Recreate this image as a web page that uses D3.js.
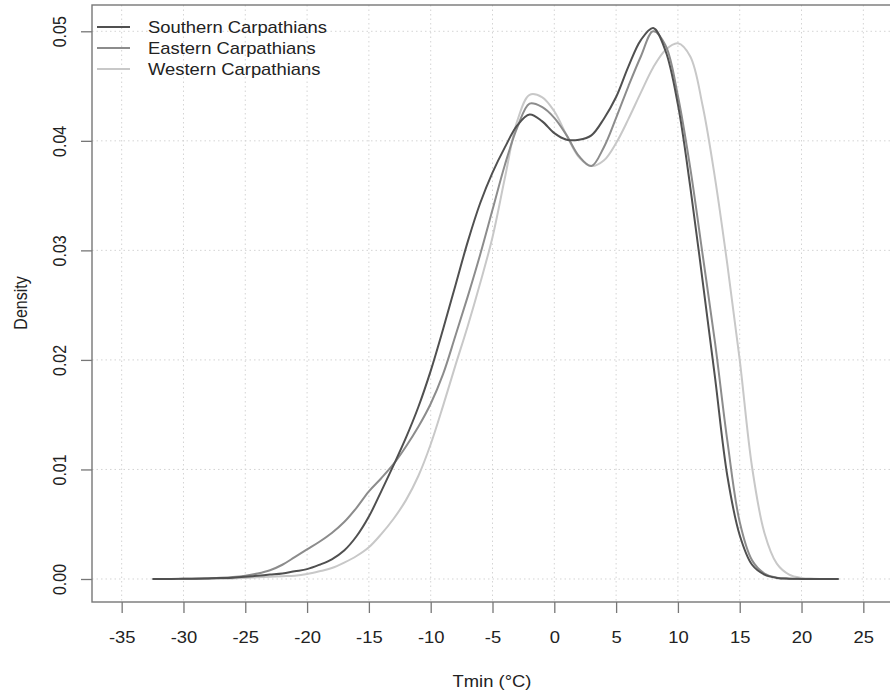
<!DOCTYPE html>
<html>
<head>
<meta charset="utf-8">
<script src="https://cdn.jsdelivr.net/npm/d3@7"></script>
<style>
  body { margin: 0; background: #fff; }
  text { font-family: "Liberation Sans", Arial, sans-serif; fill: #222; }
</style>
</head>
<body>
<div id="chart"></div>
<script>
// Temperature grid (°C) and density values
var tempGrid = [-32.5, -31, -30, -29, -28, -27, -26, -25, -24, -23, -22, -21, -20, -19, -18, -17, -16, -15, -14, -13,
  -12, -11, -10, -9, -8, -7, -6, -5, -4, -3, -2, -1, 0, 1, 2, 3, 4, 5, 6, 7,
  8, 9, 10, 11, 12, 13, 14, 15, 16, 17, 18, 19, 20, 21, 22, 23];

var southern = [0, 0, 0.00002, 0.00003, 0.00005, 0.00008, 0.00012, 0.0002, 0.0003, 0.0004, 0.0005, 0.0007, 0.0009, 0.0013, 0.0018, 0.0026, 0.0039, 0.0057, 0.008, 0.0104,
  0.0129, 0.0157, 0.019, 0.0228, 0.0268, 0.0308, 0.0343, 0.0371, 0.0394, 0.0414, 0.0424, 0.0418, 0.0407, 0.0401, 0.0401, 0.0405, 0.042, 0.044, 0.0468, 0.0492,
  0.0503, 0.0482, 0.0433, 0.0358, 0.0272, 0.0184, 0.0094, 0.004, 0.0013, 0.0004, 0.0001, 0.00003, 0.00001, 0, 0, 0];

var eastern = [0, 0, 0.00002, 0.00004, 0.00007, 0.00011, 0.00018, 0.0003, 0.0005, 0.0008, 0.0013, 0.002, 0.0027, 0.0034, 0.0042, 0.0052, 0.0065, 0.008, 0.0092, 0.0105,
  0.0121, 0.0139, 0.016, 0.0187, 0.0222, 0.0258, 0.0296, 0.0337, 0.0378, 0.0412, 0.0434, 0.0431, 0.0421, 0.0405, 0.0386, 0.0377, 0.0394, 0.0421, 0.045, 0.0477,
  0.05, 0.0487, 0.0441, 0.0375, 0.0296, 0.0216, 0.0126, 0.0052, 0.0017, 0.0005, 0.00012, 0.00003, 0, 0, 0, 0];

var western = [0, 0, 0.00001, 0.00001, 0.00002, 0.00003, 0.00005, 0.0001, 0.00015, 0.0002, 0.00025, 0.0003, 0.00045, 0.0007, 0.001, 0.0015, 0.0021, 0.0029, 0.0041, 0.0055,
  0.0072, 0.0094, 0.0123, 0.0158, 0.0195, 0.0231, 0.027, 0.0312, 0.0366, 0.0418, 0.0442, 0.044, 0.0427, 0.0405, 0.0385, 0.0377, 0.0382, 0.0398, 0.042, 0.0444,
  0.0467, 0.0483, 0.0489, 0.0477, 0.0432, 0.0366, 0.0287, 0.02, 0.0102, 0.0042, 0.0014, 0.0004, 0.0001, 0.00003, 0, 0];

var seriesNames = ["Southern Carpathians", "Eastern Carpathians", "Western Carpathians"];
var seriesColors = ["#505050", "#8c8c8c", "#c8c8c8"];
var xTicks = [-35, -30, -25, -20, -15, -10, -5, 0, 5, 10, 15, 20, 25];
var yTicks = [0, 0.01, 0.02, 0.03, 0.04, 0.05];

var svgWidth = 890;
var svgHeight = 692;
var stretch = "scale(1.15,1)"; // text in the reference is a bit wide

var svg = d3.select("#chart")
  .append("svg")
  .attr("width", svgWidth)
  .attr("height", svgHeight);

var xScale = d3.scaleLinear().domain([-37.4, 27.4]).range([92, 893]);
var yScale = d3.scaleLinear().domain([-0.0021, 0.0524]).range([602, 5]);

// dotted grid
svg.append("g").selectAll("line")
  .data(xTicks)
  .enter()
  .append("line")
  .attr("x1", d => xScale(d)).attr("x2", d => xScale(d))
  .attr("y1", 5).attr("y2", 602)
  .attr("stroke", "#d4d4d4")
  .attr("stroke-dasharray", "1.5,3");

svg.append("g").selectAll("line")
  .data(yTicks)
  .enter()
  .append("line")
  .attr("x1", 92).attr("x2", 893)
  .attr("y1", d => yScale(d)).attr("y2", d => yScale(d))
  .attr("stroke", "#d4d4d4")
  .attr("stroke-dasharray", "1.5,3");

// axes
var bottomAxis = d3.axisBottom(xScale).tickValues(xTicks).tickSize(11).tickSizeOuter(0).tickFormat(d3.format("d"));
var xAxisG = svg.append("g")
  .attr("transform", "translate(0,602)")
  .call(bottomAxis);
xAxisG.select(".domain").remove();
xAxisG.selectAll("line").attr("stroke", "#777").attr("stroke-width", 1.3);
xAxisG.selectAll("text")
  .attr("y", 41).attr("dy", 0)
  .attr("transform", stretch)
  .style("font-size", "16px")
  .style("font-family", "Liberation Sans, Arial, sans-serif")
  .attr("fill", "#222")
  .text(d => d < 0 ? "-" + Math.abs(d) : d);

var leftAxis = d3.axisLeft(yScale).tickValues(yTicks).tickSize(11).tickSizeOuter(0).tickFormat(d3.format(".2f"));
var yAxisG = svg.append("g")
  .attr("transform", "translate(92,0)")
  .call(leftAxis);
yAxisG.select(".domain").remove();
yAxisG.selectAll("line").attr("stroke", "#777").attr("stroke-width", 1.3);
yAxisG.selectAll("text")
  .attr("x", 0).attr("y", -23).attr("dy", 0)
  .attr("text-anchor", "middle")
  .attr("transform", "scale(1.15,1) rotate(-90)")
  .style("font-size", "16px")
  .style("font-family", "Liberation Sans, Arial, sans-serif")
  .attr("fill", "#222");

// curves
var allSeries = [southern, eastern, western];
var line = d3.line()
  .x((d, i) => xScale(tempGrid[i]))
  .y(d => yScale(d))
  .curve(d3.curveCatmullRom.alpha(0.5));

svg.append("g").selectAll("path")
  .data(allSeries.slice().reverse())
  .enter()
  .append("path")
  .attr("d", d => line(d))
  .attr("fill", "none")
  .attr("stroke", (d, i) => seriesColors[2 - i])
  .attr("stroke-width", 2);

// plot box
svg.append("rect")
  .attr("x", 92).attr("y", 5)
  .attr("width", 801).attr("height", 597)
  .attr("fill", "none")
  .attr("stroke", "#777")
  .attr("stroke-width", 1.4);

// legend
var legend = svg.append("g").selectAll("g")
  .data(seriesNames)
  .enter()
  .append("g")
  .attr("transform", (d, i) => `translate(0, ${27 + i * 21})`);

legend.append("line")
  .attr("x1", 97).attr("x2", 130)
  .attr("stroke", (d, i) => seriesColors[i])
  .attr("stroke-width", 2);

legend.append("text")
  .attr("transform", "translate(148,6) " + stretch)
  .style("font-size", "16px")
  .text(d => d);

// axis titles
svg.append("text")
  .attr("transform", "translate(492,687) " + stretch)
  .attr("text-anchor", "middle")
  .style("font-size", "16px")
  .text("Tmin (\u00B0C)");

svg.append("text")
  .attr("transform", "translate(27,303) scale(1.15,1) rotate(-90)")
  .attr("text-anchor", "middle")
  .style("font-size", "16px")
  .text("Density");
</script>
</body>
</html>
